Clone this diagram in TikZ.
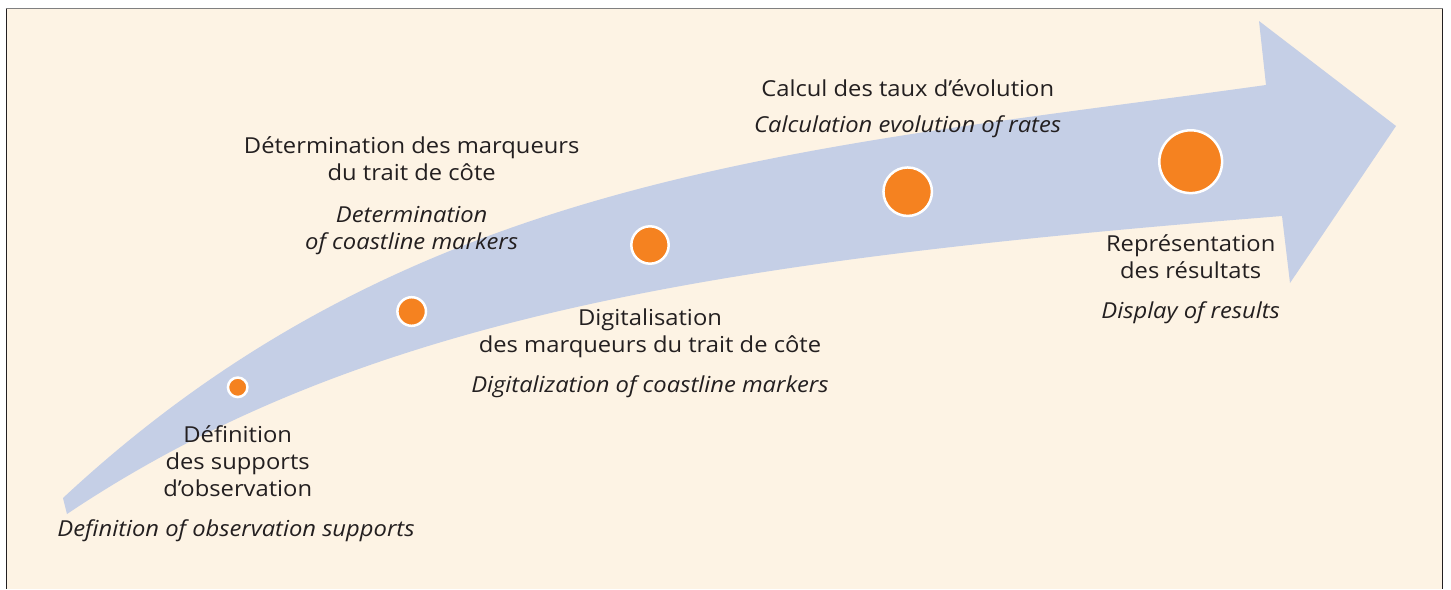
\documentclass[tikz,border=0pt]{standalone}
\usepackage{fontspec}
\setmainfont{Open Sans}[FakeStretch=1.08]
\definecolor{cream}{HTML}{FDF3E4}
\definecolor{arrowblue}{HTML}{C5CFE6}
\definecolor{dotorange}{HTML}{F58220}
\definecolor{txt}{HTML}{231F20}
\definecolor{topline}{HTML}{808080}
\begin{document}
\begin{tikzpicture}[x=1pt,y=-1pt,
  dot/.style={circle, draw=white, line width=2.5pt, fill=dotorange, inner sep=0pt},
  fr/.style={align=center, text=txt, inner sep=0pt, font=\fontsize{22}{27}\selectfont},
  en/.style={fr, font=\fontsize{22}{27}\selectfont\itshape}]
\useasboundingbox (0,0) rectangle (1451,589);
\fill[white] (0,0) rectangle (1451,589);
\fill[cream] (6.3,8.6) rectangle (1442.4,589);
\draw[topline, line width=1.3pt] (5.6,8.6) -- (1443.1,8.6);
\draw[txt, line width=1.4pt] (6.3,8.6) -- (6.3,589);
\draw[txt, line width=1.4pt] (1442.4,8.6) -- (1442.4,589);
% arrow
\fill[arrowblue] (63,498) .. controls (413,172) and (800,150) .. (1266,85)
  -- (1259,21) -- (1396,126) -- (1290,283) -- (1282,216)
  .. controls (732,260) and (367,313) .. (67,514) -- cycle;
% dots
\node[dot, minimum size=19.5pt] (c1) at (237.7,387.3) {};
\node[dot, minimum size=28.6pt] (c2) at (411.7,311.5) {};
\node[dot, minimum size=37.4pt] (c3) at (650,245) {};
\node[dot, minimum size=48.5pt] (c4) at (907.7,191.7) {};
\node[dot, minimum size=62.8pt] (c5) at (1190.7,161.7) {};
% labels
\node[fr] (f1) at (c1 |- 0,461.5) {Définition\\des supports\\d’observation};
\node[en] (e1) at (236,531) {Definition of observation supports};
\node[fr] (f2) at (c2 |- 0,158.5) {Détermination des marqueurs\\du trait de côte};
\node[en] (e2) at (c2 |- 0,230.5) {Determination\\of coastline markers};
\node[fr] (f3) at (c3 |- 0,333) {Digitalisation\\des marqueurs du trait de côte};
\node[en] (e3) at (c3 |- 0,387) {Digitalization of coastline markers};
\node[fr] (f4) at (c4 |- 0,88) {Calcul des taux d’évolution};
\node[en] (e4) at (c4 |- 0,127) {Calculation evolution of rates};
\node[fr] (f5) at (c5 |- 0,257) {Représentation\\des résultats};
\node[en] (e5) at (c5 |- 0,313) {Display of results};
\end{tikzpicture}
\end{document}
